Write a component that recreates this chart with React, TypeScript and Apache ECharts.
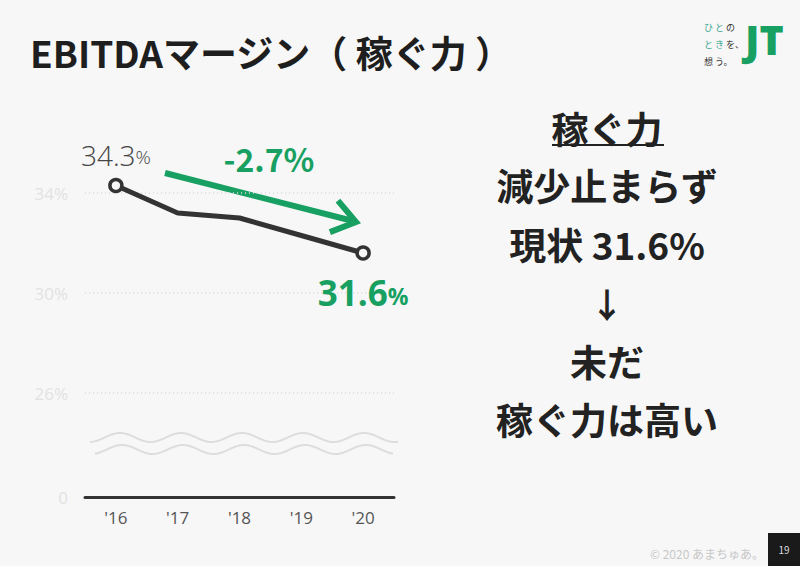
import React, { useEffect, useRef } from "react";
import * as echarts from "echarts";

const years = ["'16", "'17", "'18", "'19", "'20"];
const margin = [34.3, 33.2, 33.0, 32.3, 31.6];
const yTicks = [21.84, 26, 30, 34];
const change = "-2.7%";
const rightLines = ["稼ぐ力", "減少止まらず", "現状 31.6%", "↓", "未だ", "稼ぐ力は高い"];

const GREEN = "#17a061";
const DARK = "#333333";
const FONT = "'Noto Sans CJK JP', 'Open Sans', sans-serif";

function wave(x0: number, x1: number, yc: number, phase: number) {
  const pts: number[][] = [];
  for (let x = x0; x <= x1; x += 2) {
    pts.push([x, yc - 4.5 * Math.cos((2 * Math.PI * (x - phase)) / 61)]);
  }
  return pts;
}

function arrowHead(x1: number, y1: number, x2: number, y2: number, len: number, ang: number) {
  const a = Math.atan2(y2 - y1, x2 - x1);
  return [
    [x2 - len * Math.cos(a - ang), y2 - len * Math.sin(a - ang)],
    [x2, y2],
    [x2 - len * Math.cos(a + ang), y2 - len * Math.sin(a + ang)],
  ];
}

export default function App() {
  const ref = useRef<HTMLDivElement>(null);
  useEffect(() => {
    if (!ref.current) return;
    const chart = echarts.init(ref.current, null, { renderer: "svg" });
    const rightY = [128, 185, 244, 303, 361, 419];
    const logoChars: [string, number, number, string][] = [
      ["ひ", 704, 27, "#3aa58f"],
      ["と", 715, 27, "#3aa58f"],
      ["の", 726, 27, "#333"],
      ["と", 704, 44, "#3aa58f"],
      ["き", 715, 44, "#3aa58f"],
      ["を、", 726, 44, "#333"],
      ["想", 704, 61, "#333"],
      ["う。", 715, 61, "#333"],
    ];
    const graphics: any[] = [
      {
        type: "text",
        x: 30,
        y: 52,
        style: {
          text: "EBITDAマージン（ 稼ぐ力 ）",
          fontSize: 37,
          fontWeight: "bold",
          fill: "#1e1e1e",
          fontFamily: FONT,
          verticalAlign: "middle",
        },
      },
      ...rightLines.map((t, i) => ({
        type: "text",
        x: 607,
        y: rightY[i],
        style: {
          text: t,
          fontSize: i === 3 ? 34 : 37,
          fontWeight: "bold",
          fill: "#222",
          fontFamily: FONT,
          align: "center",
          verticalAlign: "middle",
        },
      })),
      { type: "line", shape: { x1: 552, y1: 145, x2: 664, y2: 145 }, style: { stroke: "#222", lineWidth: 2 } },
      {
        type: "text",
        x: 269,
        y: 158,
        style: { text: change, fontSize: 32, fontWeight: "bold", fill: GREEN, fontFamily: FONT, align: "center", verticalAlign: "middle" },
      },
      { type: "line", shape: { x1: 165, y1: 173, x2: 353, y2: 221 }, style: { stroke: GREEN, lineWidth: 6 } },
      {
        type: "polyline",
        shape: { points: arrowHead(165, 173, 356, 222, 28, 0.62) },
        style: { stroke: GREEN, lineWidth: 6, fill: "none", lineJoin: "miter" },
      },
      { type: "polyline", shape: { points: wave(90, 398, 437.5, 120) }, style: { stroke: "#dddddd", lineWidth: 2, fill: "none" } },
      { type: "polyline", shape: { points: wave(95, 394, 449.5, 122) }, style: { stroke: "#dddddd", lineWidth: 2, fill: "none" } },
      ...logoChars.map(([t, x, y, c]) => ({
        type: "text",
        x,
        y,
        style: { text: t, fontSize: 9, fill: c, fontFamily: FONT, verticalAlign: "middle" },
      })),
      {
        type: "text",
        x: 745,
        y: 39,
        style: { text: "JT", fontSize: 41, fontWeight: 900, fill: GREEN, fontFamily: "'Noto Sans', sans-serif", verticalAlign: "middle" },
      },
      {
        type: "text",
        x: 764,
        y: 553,
        style: { text: "© 2020 あまちゅあ。", fontSize: 12, fill: "#c8c8c8", fontFamily: FONT, align: "right", verticalAlign: "middle" },
      },
      { type: "rect", shape: { x: 768, y: 533, width: 32, height: 33 }, style: { fill: "#1a1a1a" } },
      {
        type: "text",
        x: 784,
        y: 549,
        style: { text: "19", fontSize: 10, fill: "#dddddd", fontFamily: FONT, align: "center", verticalAlign: "middle" },
      },
    ];

    chart.setOption({
      animation: false,
      backgroundColor: "#f7f7f7",
      grid: { left: 85, right: 406, top: 143, bottom: 69, containLabel: false },
      xAxis: {
        type: "category",
        data: years,
        boundaryGap: true,
        axisLine: { show: true, lineStyle: { color: DARK, width: 3 } },
        axisTick: { show: false },
        axisLabel: { color: "#555", fontSize: 17, margin: 12, fontFamily: "'Open Sans', sans-serif" },
      },
      yAxis: {
        type: "value",
        min: 21.84,
        max: 36,
        axisLine: { show: false },
        axisTick: { show: false, customValues: yTicks },
        axisLabel: {
          customValues: yTicks,
          color: "#e2e2e2",
          fontSize: 17,
          margin: 17,
          fontFamily: "'Open Sans', sans-serif",
          formatter: (v: number) => (v < 22 ? "0" : Math.round(v) + "%"),
        },
        splitLine: { show: true, lineStyle: { color: "#dcdcdc", type: [1, 3], width: 1.5 } },
      },
      series: [
        {
          type: "line",
          data: margin.map((v, i) => {
            const isEnd = i === 0 || i === margin.length - 1;
            const item: any = { value: v, symbol: isEnd ? "circle" : "none" };
            if (i === 0) {
              item.label = {
                show: true,
                position: "top",
                distance: 9,
                formatter: "{a|" + v.toFixed(1) + "}{b|%}",
                rich: {
                  a: { fontSize: 28, fontWeight: 300, color: "#444", fontFamily: "'Open Sans', sans-serif" },
                  b: { fontSize: 19, fontWeight: 300, color: "#444", fontFamily: "'Open Sans', sans-serif", padding: [5, 0, 0, 0] },
                },
              };
            }
            if (i === margin.length - 1) {
              item.label = {
                show: true,
                position: "bottom",
                distance: 14,
                formatter: "{a|" + v.toFixed(1) + "}{b|%}",
                rich: {
                  a: { fontSize: 35, fontWeight: "bold", color: GREEN, fontFamily: "'Open Sans', sans-serif" },
                  b: { fontSize: 23, fontWeight: "bold", color: GREEN, fontFamily: "'Open Sans', sans-serif", padding: [7, 0, 0, 0] },
                },
              };
            }
            return item;
          }),
          symbolSize: 12,
          lineStyle: { color: DARK, width: 5 },
          itemStyle: { color: "#f7f7f7", borderColor: DARK, borderWidth: 3.5 },
          z: 5,
        },
      ],
      graphic: graphics,
    });
    return () => chart.dispose();
  }, []);
  return <div ref={ref} style={{ position: "fixed", left: 0, top: 0, width: 800, height: 566 }} />;
}
